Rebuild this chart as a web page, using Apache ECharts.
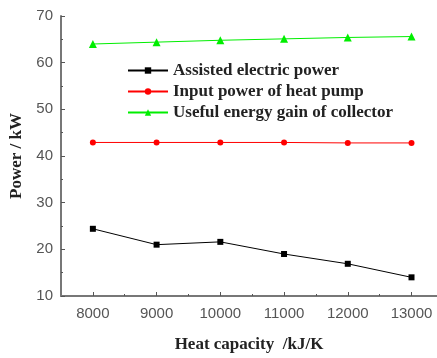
<!DOCTYPE html>
<html>
<head>
<meta charset="utf-8">
<script src="https://cdn.jsdelivr.net/npm/echarts@6/dist/echarts.min.js"></script>
<style>
  html, body { margin: 0; padding: 0; background: #fff; }
  #chart { width: 437px; height: 358px; }
</style>
</head>
<body>
<div id="chart"></div>
<script>
const heatCapacity = [8000, 9000, 10000, 11000, 12000, 13000]
const minorTicks = [8500, 9500, 10500, 11500, 12500]
const assistedPower = [24.4, 21.0, 21.6, 19.0, 16.9, 14.0]
const heatPumpPower = [42.9, 42.9, 42.9, 42.9, 42.8, 42.8]
const collectorGain = [64.0, 64.4, 64.8, 65.1, 65.4, 65.6]

const seriesNames = [
  'Assisted electric power',
  'Input power of heat pump',
  'Useful energy gain of collector'
]

const axisGray = '#777'
const serif = '"Liberation Serif", "DejaVu Serif", serif'
const sans = '"Liberation Sans", Arial, sans-serif'

function pairs(values) {
  return heatCapacity.map((x, i) => [x, values[i]])
}

const chart = echarts.init(document.getElementById('chart'))

chart.setOption({
  animation: false,
  grid: { left: 61, right: 0, top: 16, bottom: 59 },
  legend: {
    orient: 'vertical',
    left: 127,
    top: 62,
    padding: 0,
    itemWidth: 40,
    itemHeight: 8,
    itemGap: 4,
    textStyle: { fontFamily: serif, fontSize: 17, fontWeight: 'bold', color: '#222' },
    data: seriesNames
  },
  xAxis: [
    {
      type: 'value',
      min: 7500,
      max: 13400,
      name: 'Heat capacity  /kJ/K',
      nameLocation: 'middle',
      nameGap: 40,
      nameTextStyle: { fontFamily: serif, fontSize: 17, fontWeight: 'bold', color: '#222' },
      axisLine: { lineStyle: { color: axisGray, width: 2 } },
      axisTick: { inside: true, length: 4, customValues: heatCapacity, lineStyle: { color: '#555' } },
      axisLabel: {
        customValues: heatCapacity,
        formatter: v => String(v),
        fontFamily: sans, fontSize: 15, color: '#555', margin: 10
      },
      splitLine: { show: false }
    },
    {
      type: 'value',
      min: 7500,
      max: 13400,
      position: 'bottom',
      axisLine: { show: false },
      axisTick: { inside: true, length: 2, customValues: minorTicks, lineStyle: { color: '#555' } },
      axisLabel: { show: false },
      splitLine: { show: false }
    }
  ],
  yAxis: {
    type: 'value',
    min: 10,
    max: 70,
    interval: 10,
    name: 'Power / kW',
    nameLocation: 'middle',
    nameGap: 35,
    nameTextStyle: { fontFamily: serif, fontSize: 17, fontWeight: 'bold', color: '#222' },
    axisLine: { show: true, lineStyle: { color: axisGray, width: 2 } },
    axisTick: { show: true, inside: true, length: 4, lineStyle: { color: '#555' } },
    minorTick: { show: true, splitNumber: 2, length: 2, lineStyle: { color: '#555' } },
    axisLabel: { fontFamily: sans, fontSize: 15, color: '#555', margin: 8 },
    splitLine: { show: false }
  },
  series: [
    {
      name: seriesNames[0],
      type: 'line',
      data: pairs(assistedPower),
      symbol: 'rect',
      symbolSize: 6,
      lineStyle: { color: '#000', width: 1 },
      itemStyle: { color: '#000' }
    },
    {
      name: seriesNames[1],
      type: 'line',
      data: pairs(heatPumpPower),
      symbol: 'circle',
      symbolSize: 6,
      lineStyle: { color: '#ff0000', width: 1 },
      itemStyle: { color: '#ff0000' }
    },
    {
      name: seriesNames[2],
      type: 'line',
      data: pairs(collectorGain),
      symbol: 'triangle',
      symbolSize: 8,
      lineStyle: { color: '#00ee00', width: 1 },
      itemStyle: { color: '#00ee00' }
    }
  ]
})
</script>
</body>
</html>
